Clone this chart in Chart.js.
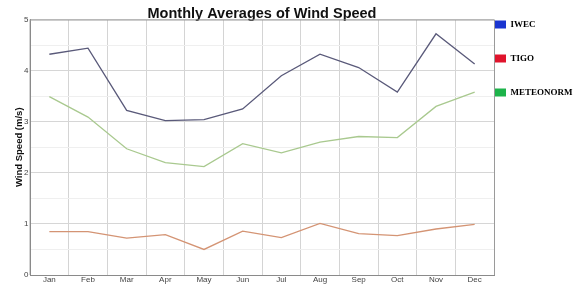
<!DOCTYPE html>
<html>
<head>
<meta charset="utf-8">
<script src="https://cdn.jsdelivr.net/npm/chart.js@4/dist/chart.umd.min.js"></script>
<style>
html,body{margin:0;padding:0;background:#fff;}
#wrap{position:relative;width:573px;height:285px;}
</style>
</head>
<body>
<div id="wrap"><canvas id="c" width="573" height="285"></canvas></div>
<script>
const months = ['Jan','Feb','Mar','Apr','May','Jun','Jul','Aug','Sep','Oct','Nov','Dec'];
const iwec = [4.32, 4.44, 3.22, 3.02, 3.04, 3.25, 3.90, 4.32, 4.06, 3.58, 4.72, 4.13];
const tigo = [0.85, 0.85, 0.72, 0.79, 0.50, 0.86, 0.73, 1.01, 0.81, 0.77, 0.90, 0.99];
const meteonorm = [3.49, 3.09, 2.47, 2.20, 2.12, 2.57, 2.39, 2.60, 2.71, 2.69, 3.30, 3.58];
const seriesNames = ['IWEC', 'TIGO', 'METEONORM'];
const yTicks = [0, 1, 2, 3, 4, 5];

const lineColors = ['#5a5a7a', '#d49474', '#a9c98f'];
const legendColors = ['#1a35d0', '#e0142c', '#1db34a'];

const LEG_PAD = 25;

const frame = {
  id: 'frame',
  afterLayout(chart) {
    const a = chart.chartArea;
    if (chart.legend) {
      chart.legend.left = a.right + 1 - LEG_PAD;
      chart.legend.top = a.top + 0.5 - LEG_PAD;
    }
  },
  afterDatasetsDraw(chart) {
    const {ctx, chartArea: a} = chart;
    ctx.save();
    ctx.strokeStyle = '#9a9a9a';
    ctx.lineWidth = 1;
    ctx.beginPath();
    ctx.moveTo(a.left, a.top + 0.5);
    ctx.lineTo(a.right + 0.5, a.top + 0.5);
    ctx.lineTo(a.right + 0.5, a.bottom);
    ctx.stroke();
    ctx.restore();
  }
};

new Chart(document.getElementById('c'), {
  type: 'line',
  data: {
    labels: months,
    datasets: [iwec, tigo, meteonorm].map((d, i) => ({
      label: seriesNames[i],
      data: d,
      borderColor: lineColors[i],
      backgroundColor: legendColors[i],
      borderWidth: 1.3,
      pointRadius: 0,
      tension: 0,
      fill: false
    }))
  },
  options: {
    responsive: false,
    animation: false,
    layout: { padding: 0 },
    plugins: {
      title: {
        display: true,
        text: 'Monthly Averages of Wind Speed',
        fullSize: false,
        color: '#111',
        font: { family: 'Liberation Sans, Arial, sans-serif', size: 14.5, weight: 'bold', lineHeight: '12px' },
        padding: { top: 7.5, bottom: 0 }
      },
      legend: {
        position: 'right',
        align: 'start',
        maxWidth: 79,
        labels: {
          boxWidth: 11,
          boxHeight: 8,
          padding: LEG_PAD,
          color: '#111',
          font: { family: 'Liberation Serif, Times New Roman, serif', size: 9, weight: 'bold' },
          generateLabels(chart) {
            return chart.data.datasets.map((ds, i) => ({
              text: ds.label,
              fillStyle: legendColors[i],
              strokeStyle: legendColors[i],
              lineWidth: 0,
              hidden: false,
              datasetIndex: i
            }));
          }
        }
      },
      tooltip: { enabled: false }
    },
    scales: {
      x: {
        type: 'category',
        offset: true,
        grid: { offset: true, color: '#d4d4d4', drawTicks: false },
        border: { color: '#8a8a8a' },
        ticks: {
          padding: 1,
          color: '#444',
          font: { family: 'Liberation Sans, Arial, sans-serif', size: 8, lineHeight: 1 },
          maxRotation: 0,
          autoSkip: false
        }
      },
      y: {
        min: 0,
        max: 5,
        afterFit(scale) { scale.width = 30; },
        afterBuildTicks(scale) {
          const t = [];
          for (let i = 0; i < yTicks.length; i++) {
            t.push({ value: yTicks[i] });
            if (i < yTicks.length - 1) t.push({ value: yTicks[i] + 0.5 });
          }
          scale.ticks = t;
        },
        grid: {
          drawTicks: false,
          color: (c) => (c.tick && c.tick.value % 1 !== 0) ? '#efefef' : '#d6d6d6'
        },
        border: { color: '#8a8a8a' },
        ticks: {
          padding: 1.5,
          color: '#444',
          font: { family: 'Liberation Sans, Arial, sans-serif', size: 8 },
          callback: (v) => (v % 1 === 0 ? String(v) : '')
        },
        title: {
          display: true,
          text: 'Wind Speed (m/s)',
          color: '#111',
          font: { family: 'Liberation Sans, Arial, sans-serif', size: 9.5, weight: 'bold', lineHeight: 1.2 },
          padding: { top: 13.5, bottom: 0 }
        }
      }
    }
  },
  plugins: [frame]
});
</script>
</body>
</html>
